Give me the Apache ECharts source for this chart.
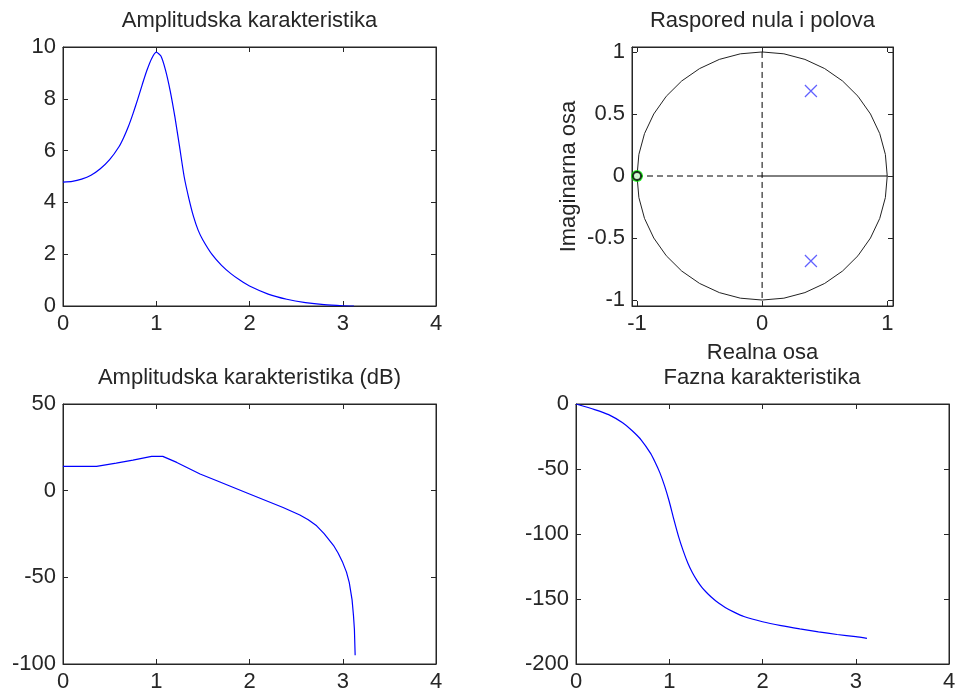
<!DOCTYPE html>
<html><head><meta charset="utf-8">
<script src="https://cdn.jsdelivr.net/npm/echarts@6/dist/echarts.min.js"></script>
<style>html,body{margin:0;padding:0;background:#fff}#c{width:956px;height:692px}</style>
</head><body><div id="c"></div>
<script>
// ---- data ----
const titles = ['Amplitudska karakteristika', 'Raspored nula i polova', 'Amplitudska karakteristika (dB)', 'Fazna karakteristika'];
const pzXName = 'Realna osa';
const pzYName = 'Imaginarna osa';

// amplitude |H| vs omega
const ampW   = [0, 0.1, 0.2, 0.3, 0.4, 0.5, 0.6, 0.65, 0.7, 0.75, 0.8, 0.85, 0.9, 0.95, 1.0, 1.05, 1.1, 1.15, 1.2, 1.25, 1.3, 1.35, 1.4, 1.45, 1.5, 1.6, 1.7, 1.8, 1.9, 2.0, 2.2, 2.4, 2.6, 2.8, 3.0, 3.12];
const ampVal = [4.78, 4.81, 4.9, 5.05, 5.3, 5.65, 6.15, 6.5, 6.92, 7.42, 7.97, 8.55, 9.1, 9.55, 9.8, 9.65, 9.1, 8.3, 7.3, 6.15, 4.98, 4.15, 3.45, 2.92, 2.55, 1.98, 1.57, 1.25, 0.99, 0.77, 0.46, 0.26, 0.13, 0.05, 0.01, 0];

// amplitude in dB
const dbW   = [0, 0.36, 0.57, 0.75, 0.95, 1.07, 1.22, 1.47, 1.65, 2.0, 2.36, 2.54, 2.63, 2.72, 2.8, 2.9, 2.95, 3.0, 3.04, 3.07, 3.1, 3.115, 3.125, 3.133];
const dbVal = [14.0, 14.0, 15.9, 17.6, 19.8, 19.8, 16.3, 9.6, 5.7, -1.9, -9.7, -14.0, -16.8, -20.3, -24.8, -31.5, -36, -41.5, -47, -53, -63, -72, -80, -95];

// phase (degrees)
const phW   = [0, 0.2, 0.35, 0.5, 0.6, 0.7, 0.8, 0.85, 0.9, 0.95, 1.0, 1.05, 1.1, 1.15, 1.2, 1.25, 1.3, 1.35, 1.4, 1.45, 1.5, 1.6, 1.7, 1.8, 2.0, 2.2, 2.4, 2.6, 2.8, 3.0, 3.12];
const phVal = [0, -4.3, -8.2, -14.5, -20.4, -27.7, -38, -45, -53, -63, -75, -89, -102, -113, -122.5, -130, -136, -141, -145, -148.5, -151.5, -156.5, -160.3, -163.5, -167.5, -170.5, -173, -175.3, -177.3, -179, -180.3];

// pole-zero map
const zeroRe = [-1];
const zeroIm = [0];
const poleRe = [0.39, 0.39];
const poleIm = [0.685, -0.685];
const circleRe = [1, 0.985, 0.940, 0.866, 0.766, 0.643, 0.5, 0.342, 0.174, 0, -0.174, -0.342, -0.5, -0.643, -0.766, -0.866, -0.940, -0.985, -1, -0.985, -0.940, -0.866, -0.766, -0.643, -0.5, -0.342, -0.174, 0, 0.174, 0.342, 0.5, 0.643, 0.766, 0.866, 0.940, 0.985, 1];
const circleIm = [0, 0.174, 0.342, 0.5, 0.643, 0.766, 0.866, 0.940, 0.985, 1, 0.985, 0.940, 0.866, 0.766, 0.643, 0.5, 0.342, 0.174, 0, -0.174, -0.342, -0.5, -0.643, -0.766, -0.866, -0.940, -0.985, -1, -0.985, -0.940, -0.866, -0.766, -0.643, -0.5, -0.342, -0.174, 0];
const negRealRe = [-1, 0];  const negRealIm = [0, 0];
const posRealRe = [0, 1];   const posRealIm = [0, 0];
const imagRe = [0, 0];      const imagIm = [1, -1];

// tick values
const pzXTicks = [-1, 0, 1];
const pzYTicks = [-1, -0.5, 0, 0.5, 1];

// ---- chart ----
function zip(a, b) { return a.map((v, i) => [v, b[i]]); }
const FONT = '"Liberation Sans", Arial, sans-serif';
const FS = 22;
const TXT = '#262626';
const AX = '#262626';

const grids = [
  {left: 63, top: 47, width: 373, height: 259},
  {left: 632, top: 47, width: 261, height: 259},
  {left: 63, top: 404, width: 373, height: 260},
  {left: 576, top: 404, width: 373, height: 260}
].map(g => Object.assign(g, {show: true, borderColor: AX, borderWidth: 1, backgroundColor: '#fff', containLabel: false, outerBoundsMode: 'none'}));

function axisBase(grid, pos, showLabel, range, extra) {
  const a = Object.assign({
    gridIndex: grid, type: 'value', position: pos,
    axisLine: {show: true, onZero: false, lineStyle: {color: AX, width: 1}},
    axisTick: {show: true, inside: true, length: 5, lineStyle: {color: AX, width: 1}},
    axisLabel: {show: showLabel, color: TXT, fontFamily: FONT, fontSize: FS, margin: 7},
    splitLine: {show: false}
  }, range);
  if (extra) {
    if (extra.ticks) { a.axisTick.customValues = extra.ticks; a.axisLabel.customValues = extra.ticks; }
    if (extra.name) { Object.assign(a, extra.name); }
  }
  return a;
}
const xr = [
  {min: 0, max: 4, interval: 1},
  {min: -1.04, max: 1.046},
  {min: 0, max: 4, interval: 1},
  {min: 0, max: 4, interval: 1}
];
const yr = [
  {min: 0, max: 10, interval: 2},
  {min: -1.048, max: 1.04},
  {min: -100, max: 50, interval: 50},
  {min: -200, max: 0, interval: 50}
];
const xAxis = [], yAxis = [];
for (let i = 0; i < 4; i++) {
  const xt = i === 1 ? {ticks: pzXTicks, name: {name: pzXName, nameLocation: 'middle', nameGap: 36, nameTextStyle: {color: TXT, fontFamily: FONT, fontSize: FS}}} : null;
  const yt = i === 1 ? {ticks: pzYTicks, name: {name: pzYName, nameLocation: 'middle', nameGap: 52, nameTextStyle: {color: TXT, fontFamily: FONT, fontSize: FS}}} : null;
  xAxis.push(axisBase(i, 'bottom', true, xr[i], xt));
  xAxis.push(axisBase(i, 'top', false, xr[i], i === 1 ? {ticks: pzXTicks} : null));
  yAxis.push(axisBase(i, 'left', true, yr[i], yt));
  yAxis.push(axisBase(i, 'right', false, yr[i], i === 1 ? {ticks: pzYTicks} : null));
}

const blue = '#0000ff';
function lineS(xi, data, style, z) {
  return {type: 'line', xAxisIndex: xi, yAxisIndex: xi, data: data, showSymbol: false, symbol: 'none',
          lineStyle: Object.assign({width: 1.2, color: blue}, style), smooth: false, z: z || 2, silent: true, animation: false};
}
const series = [
  Object.assign(lineS(0, zip(ampW, ampVal), {}), {smooth: 0.2}),
  lineS(2, zip(circleRe, circleIm), {color: '#222', width: 1}),
  lineS(2, zip(negRealRe, negRealIm), {color: '#000', width: 1, type: [6, 4]}),
  lineS(2, zip(posRealRe, posRealIm), {color: '#000', width: 1}),
  lineS(2, zip(imagRe, imagIm), {color: '#000', width: 1, type: [6, 4]}),
  {type: 'scatter', xAxisIndex: 2, yAxisIndex: 2, data: zip(poleRe, poleIm), symbol: 'path://M0,0L10,10M10,0L0,10', symbolSize: 12,
   itemStyle: {color: 'rgba(0,0,0,0)', borderColor: '#3a3aff', borderWidth: 1.2}, z: 5, silent: true, animation: false},
  {type: 'scatter', xAxisIndex: 2, yAxisIndex: 2, data: zip(zeroRe, zeroIm), symbol: 'circle', symbolSize: 12,
   itemStyle: {color: '#00ee00'}, z: 5, silent: true, animation: false},
  {type: 'scatter', xAxisIndex: 2, yAxisIndex: 2, data: zip(zeroRe, zeroIm), symbol: 'circle', symbolSize: 8,
   itemStyle: {color: '#fff', borderColor: '#000', borderWidth: 2}, z: 6, silent: true, animation: false},
  lineS(4, zip(dbW, dbVal), {}),
  Object.assign(lineS(6, zip(phW, phVal), {}), {smooth: 0.2})
];

const titleCenters = [[249.5, 10], [762.5, 10], [249.5, 367], [762, 367]];
const title = titles.map((t, i) => ({
  text: t, left: titleCenters[i][0], top: titleCenters[i][1], textAlign: 'center', padding: 0,
  textStyle: {color: TXT, fontFamily: FONT, fontSize: FS, fontWeight: 'normal'}
}));

const chart = echarts.init(document.getElementById('c'), null, {renderer: 'canvas'});
chart.setOption({animation: false, backgroundColor: '#fff', title: title, grid: grids, xAxis: xAxis, yAxis: yAxis, series: series});
</script>
</body></html>
